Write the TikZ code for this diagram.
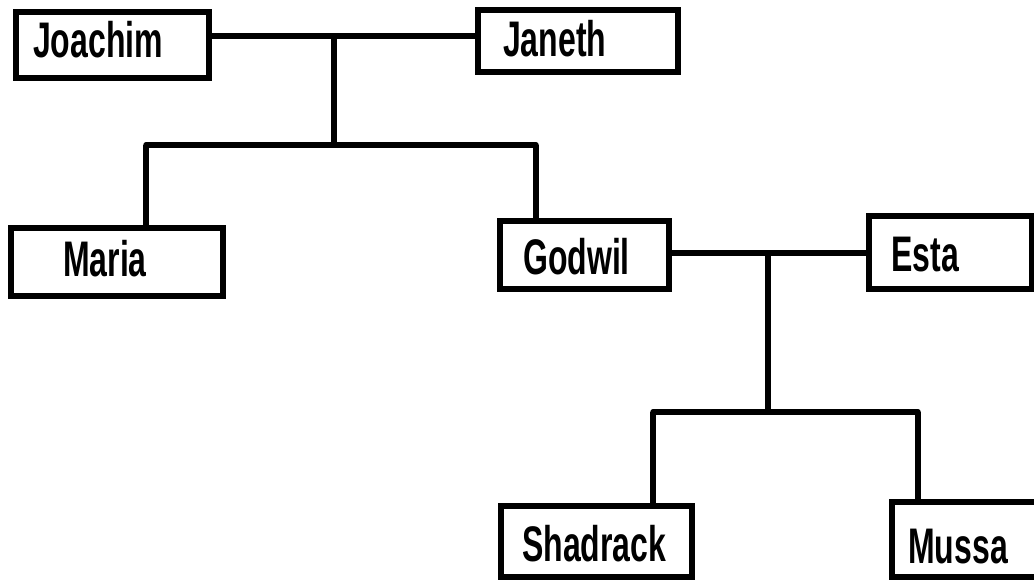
\documentclass[tikz,border=0pt]{standalone}
\usepackage{fontspec}
\setmainfont{Liberation Sans}
\usepackage{graphicx}
\newcommand\condtxt[1]{\scalebox{0.64}[1]{#1}}
\tikzset{
  person/.style={draw=black, line width=6pt, fill=white, inner sep=0pt, outer sep=0pt},
  lbl/.style={font=\fontsize{50}{51}\selectfont\bfseries, inner sep=0pt, anchor=base west, text=black},
  link/.style={draw=black, line width=5.5pt}
}
\begin{document}
\begin{tikzpicture}[x=1pt, y=-1pt]
\useasboundingbox (0,0) rectangle (1034,581);
\clip (0,0) rectangle (1034,581);
\fill[white] (0,0) rectangle (1034,581);
% junction points
\coordinate (m1) at (334,36);
\coordinate (m2) at (334,145);
\coordinate (lm) at (146,145);
\coordinate (rg) at (536,145);
\coordinate (m3) at (768,253);
\coordinate (m4) at (768,412);
\coordinate (ls) at (653,412);
\coordinate (rm) at (918,412);
% boxes
\node[person, minimum width=193pt, minimum height=66pt] (joachim) at (112.5,45) {};
\node[person, minimum width=200pt, minimum height=62pt] (janeth) at (578,41) {};
\node[person, minimum width=212pt, minimum height=68pt] (maria) at (117,262) {};
\node[person, minimum width=169pt, minimum height=68pt] (godwil) at (584.5,255) {};
\node[person, minimum width=163pt, minimum height=73pt] (esta) at (950.5,252.5) {};
\node[person, minimum width=191pt, minimum height=71pt] (shadrack) at (596.5,541.5) {};
\node[person, minimum width=188pt, minimum height=75pt] (mussa) at (986,539.5) {};
% connectors
\draw[link] (joachim.east |- m1) -- (janeth.west |- m1);
\draw[link] (m1) -- (m2);
\draw[link, line cap=round] (lm) -- (rg);
\draw[link] (lm) -- (lm |- maria.north);
\draw[link] (rg) -- (rg |- godwil.north);
\draw[link] (godwil.east |- m3) -- (esta.west |- m3);
\draw[link] (m3) -- (m4);
\draw[link, line cap=round] (ls) -- (rm);
\draw[link] (ls) -- (ls |- shadrack.north);
\draw[link] (rm) -- (rm |- mussa.north);
% labels
\node[lbl] (tjoachim) at (33,57) {\condtxt{Joachim}};
\node[lbl] (tjaneth) at (503,56) {\condtxt{Janeth}};
\node[lbl] (tmaria) at (63,276) {\condtxt{Maria}};
\node[lbl] (tgodwil) at (523,274) {\condtxt{Godwil}};
\node[lbl] (testa) at (891,271) {\condtxt{Esta}};
\node[lbl] (tshadrack) at (522,561) {\condtxt{Shadrack}};
\node[lbl] (tmussa) at (908,563) {\condtxt{Mussa}};
\end{tikzpicture}
\end{document}
